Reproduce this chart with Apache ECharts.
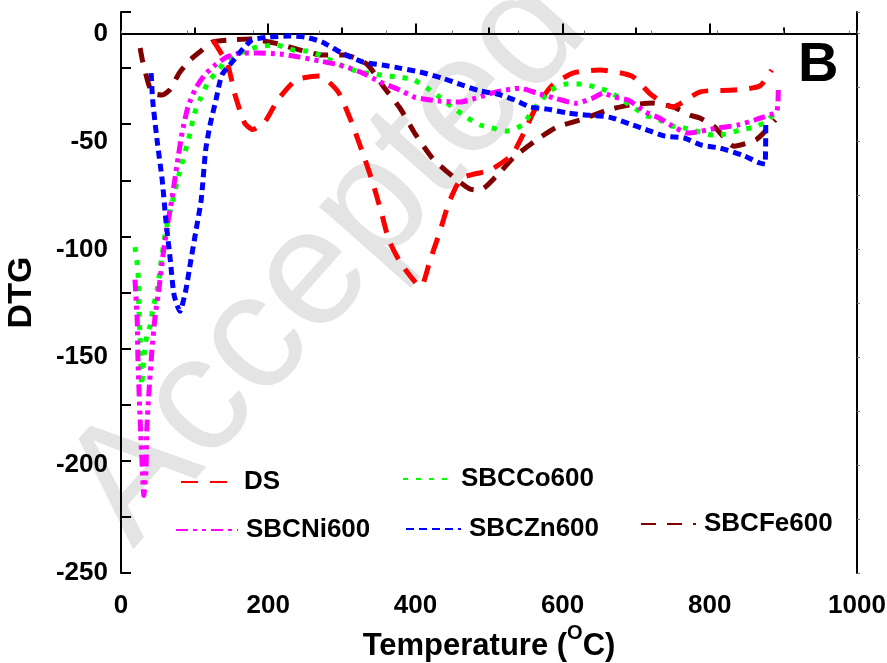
<!DOCTYPE html>
<html>
<head>
<meta charset="utf-8">
<script src="https://cdn.jsdelivr.net/npm/echarts@6/dist/echarts.min.js"></script>
<style>
  html, body { margin: 0; padding: 0; background: #fff; }
  #chart { width: 887px; height: 663px; }
</style>
</head>
<body>
<div id="chart"></div>
<script>
// [temperature (°C), DTG]
const DS = [[125,-3],[145,-14.6],[155,-28.5],[168,-41.5],[179,-44.5],[196,-40.6],[213,-30.8],[238,-21.5],[270,-19.7],[295,-27],[312,-40],[327,-54],[341,-68],[353,-82],[364,-95.7],[380,-106.4],[401,-115.7],[408,-117],[420,-105],[433,-92],[446,-78],[463,-67],[501,-63.3],[531,-56.3],[548,-45.6],[562,-35.4],[585,-24.3],[614,-18.3],[651,-16.9],[694,-19.7],[721,-28.5],[749,-34],[787,-27],[833,-26.2],[868,-24.3],[884,-16.9]];

const SBCCo600 = [[19,-99],[23,-110],[24,-124],[26,-142],[28,-163],[31,-150],[35,-140],[40,-135],[43,-128],[49,-119],[54,-107],[60,-93],[67,-82],[79,-65],[94,-46],[99,-37.8],[107,-30.8],[118,-22.9],[132,-16.9],[144,-12.2],[162,-9],[185,-6.2],[211,-5.3],[234,-7.6],[253,-8.1],[270,-9.9],[304,-15.5],[325,-17.8],[344,-18.7],[361,-19.7],[378,-20.1],[398,-21.5],[416,-25.3],[433,-29.5],[450,-34],[469,-38.7],[488,-42.4],[501,-43.4],[524,-45.2],[545,-42.4],[558,-36.4],[571,-30.8],[584,-26.2],[605,-23.4],[624,-23.4],[644,-24.8],[664,-27],[681,-30.8],[698,-34.5],[712,-37.8],[732,-40],[743,-42.4],[766,-43.8],[787,-45.7],[804,-47],[821,-46.6],[841,-44.7],[859,-43.4],[876,-41],[891,-35.5]];

const SBCNi600 = [[19,-114],[22,-133],[23,-151],[26,-179],[29,-202],[31,-214],[34,-202],[35,-184],[38,-166],[42,-147],[46,-132],[52,-117],[57,-103],[62,-91],[69,-77],[76,-61],[83,-46],[91,-34],[102,-25],[114,-19],[128,-14.6],[143,-11],[162,-9],[186,-9],[216,-9.5],[243,-10.9],[270,-12.7],[298,-14.6],[325,-17.8],[352,-22.4],[379,-26.2],[399,-29.5],[433,-31.3],[461,-31.7],[482,-29.9],[510,-27],[542,-25.3],[565,-27.6],[590,-30],[618,-32.3],[640,-30],[655,-27.6],[671,-29.5],[689,-30.8],[713,-36.4],[732,-39.2],[747,-42.4],[770,-46.1],[810,-43.8],[838,-42.4],[864,-39.7],[891,-35.9],[893,-26.2]];

const SBCZn600 = [[41,-18.3],[43,-30.8],[49,-49.4],[56,-68],[61,-86.5],[67,-105],[72,-121],[80,-128.7],[88,-119],[94,-107],[102,-91],[109,-77],[115,-54],[121,-42.4],[129,-30.8],[137,-19.2],[151,-13.2],[162,-8.5],[178,-3],[202,-1.6],[230,-1.1],[250,-1.6],[273,-3.9],[300,-9],[329,-13.2],[355,-14.6],[379,-16],[406,-17.8],[436,-20.6],[463,-23.8],[488,-26.6],[511,-28],[535,-30.8],[556,-34],[579,-35],[606,-36.8],[634,-37.8],[663,-38.7],[692,-42],[712,-44.3],[739,-47.5],[765,-48.4],[789,-51.7],[814,-53.1],[844,-56.3],[868,-60],[875,-60.5],[876,-41]];

const SBCFe600 = [[26,-6.7],[29,-12.2],[37,-22.9],[43,-27.6],[56,-28.5],[67,-25.8],[79,-18.3],[94,-12.2],[107,-8.5],[124,-3.9],[145,-3],[175,-2.5],[209,-4.4],[243,-7.6],[273,-9.9],[304,-9.9],[334,-14.1],[357,-24.8],[379,-34.5],[399,-46.1],[423,-57.7],[450,-66],[474,-72],[488,-72.5],[511,-65.7],[534,-57.3],[562,-49.9],[592,-43.4],[627,-39.7],[660,-35.5],[692,-33.1],[723,-32.2],[750,-34],[773,-37.8],[787,-39.2],[807,-43.4],[833,-52.2],[864,-48.9],[889,-40]];

const xTicks = [0, 200, 400, 600, 800, 1000];
const yTicks = [0, -50, -100, -150, -200, -250];

const FONT = "'Liberation Sans Narrow', 'Arial Narrow', 'Liberation Sans', Arial, sans-serif";

let chart = echarts.init(document.getElementById('chart'));

function mkSeries(name, data, color, dash) {
    return {
        name: name,
        type: 'line',
        data: data,
        symbol: 'none',
        smooth: 0.2,
        lineStyle: { color: color, width: 5, type: dash },
        itemStyle: { color: color }
    };
}

function mkLegend(name, left, top, w) {
    return {
        data: [name],
        left: left,
        top: top,
        itemWidth: w,
        itemHeight: 14,
        selectedMode: false,
        itemStyle: { opacity: 0 },
        textStyle: {
            fontFamily: FONT, fontWeight: 'bold', fontSize: 26, color: '#000',
            padding: [0, 0, 0, 3], lineHeight: 30
        }
    };
}

let axisLine = { show: true, lineStyle: { color: '#000', width: 2 } };

let option = {
    animation: false,
    backgroundColor: '#fff',
    grid: { left: 121, right: 30, top: 12, bottom: 90, outerBoundsMode: 'none', containLabel: false },
    graphic: [
        {   // watermark
            type: 'text', x: 328, y: 260, rotation: 48.5 * Math.PI / 180, z: -10,
            style: { text: 'Accepted', fontSize: 166, fontFamily: "'Liberation Sans', Arial, sans-serif",
                     fill: '#e4e4e4', align: 'center', verticalAlign: 'middle' }
        },
        {
            type: 'text', left: 798, top: 38, z: 10,
            style: { text: 'B', fontSize: 56, fontWeight: 'bold', fontFamily: "'Liberation Sans', Arial, sans-serif", fill: '#000' }
        }
    ],
    legend: [
        mkLegend('DS', 175, 462, 55),
        mkLegend('SBCCo600', 397, 459, 50),
        mkLegend('SBCNi600', 170, 510, 62),
        mkLegend('SBCZn600', 400, 509, 55),
        mkLegend('SBCFe600', 635, 504, 55)
    ],
    xAxis: [
        {
            type: 'value', position: 'bottom', min: 0, max: 1000, interval: 200,
            axisLine: axisLine,
            axisTick: { show: true, inside: true, length: 10, lineStyle: { color: '#000', width: 2 } },
            minorTick: { show: true, splitNumber: 2, length: 6, lineStyle: { color: '#000', width: 2 } },
            splitLine: { show: false },
            axisLabel: {
                margin: 20, fontFamily: FONT, fontWeight: 'bold', fontSize: 26, color: '#000',
                formatter: function (v) { return xTicks.indexOf(v) >= 0 ? String(v) : ''; }
            },
            name: '{a|Temperature (}{s|O}{a|C)}',
            nameLocation: 'middle',
            nameGap: 41,
            nameTextStyle: {
                rich: {
                    a: { fontFamily: FONT, fontWeight: 'bold', fontSize: 31, color: '#000', lineHeight: 38, verticalAlign: 'bottom' },
                    s: { fontFamily: FONT, fontWeight: 'bold', fontSize: 20, color: '#000', lineHeight: 38, verticalAlign: 'top' }
                }
            }
        },
        {
            type: 'value', position: 'top', min: 0, max: 1000, interval: 90,
            axisLine: axisLine,
            axisTick: { show: true, inside: false, length: 3, lineStyle: { color: '#777', width: 1 } },
            axisLabel: { show: false },
            splitLine: { show: false }
        }
    ],
    yAxis: [
        {
            type: 'value', position: 'left', min: -250, max: 10, interval: 50,
            axisLine: axisLine,
            axisTick: { show: false },
            splitLine: { show: false },
            axisLabel: {
                margin: 13, showMaxLabel: false, fontFamily: FONT, fontWeight: 'bold', fontSize: 26, color: '#000',
                formatter: function (v) { return yTicks.indexOf(v) >= 0 ? String(v) : ''; }
            },
            name: 'DTG',
            nameLocation: 'middle',
            nameGap: 82,
            nameTextStyle: { fontFamily: FONT, fontWeight: 'bold', fontSize: 34, color: '#000' }
        },
        {   // tick marks of the left axis (spacing differs from labels in the original)
            type: 'value', position: 'left', min: -250, max: 10, interval: 26,
            axisLine: { show: false },
            axisTick: { show: true, inside: true, length: 10, lineStyle: { color: '#000', width: 2 } },
            axisLabel: { show: false },
            splitLine: { show: false }
        },
        {
            type: 'value', position: 'right', min: -250, max: 10, interval: 25,
            axisLine: axisLine,
            axisTick: { show: true, inside: false, length: 3, lineStyle: { color: '#777', width: 1 } },
            axisLabel: { show: false },
            splitLine: { show: false }
        }
    ],
    series: [
        mkSeries('SBCFe600', SBCFe600, '#800000', [15, 11]),
        mkSeries('DS', DS, '#ff0000', [17, 12]),
        mkSeries('SBCCo600', SBCCo600, '#00ff00', [5, 8]),
        mkSeries('SBCNi600', SBCNi600, '#ff00ff', [12, 5, 4, 5, 4, 5]),
        mkSeries('SBCZn600', SBCZn600, '#0000ff', [8, 5])
    ]
};

chart.setOption(option);
</script>
</body>
</html>
